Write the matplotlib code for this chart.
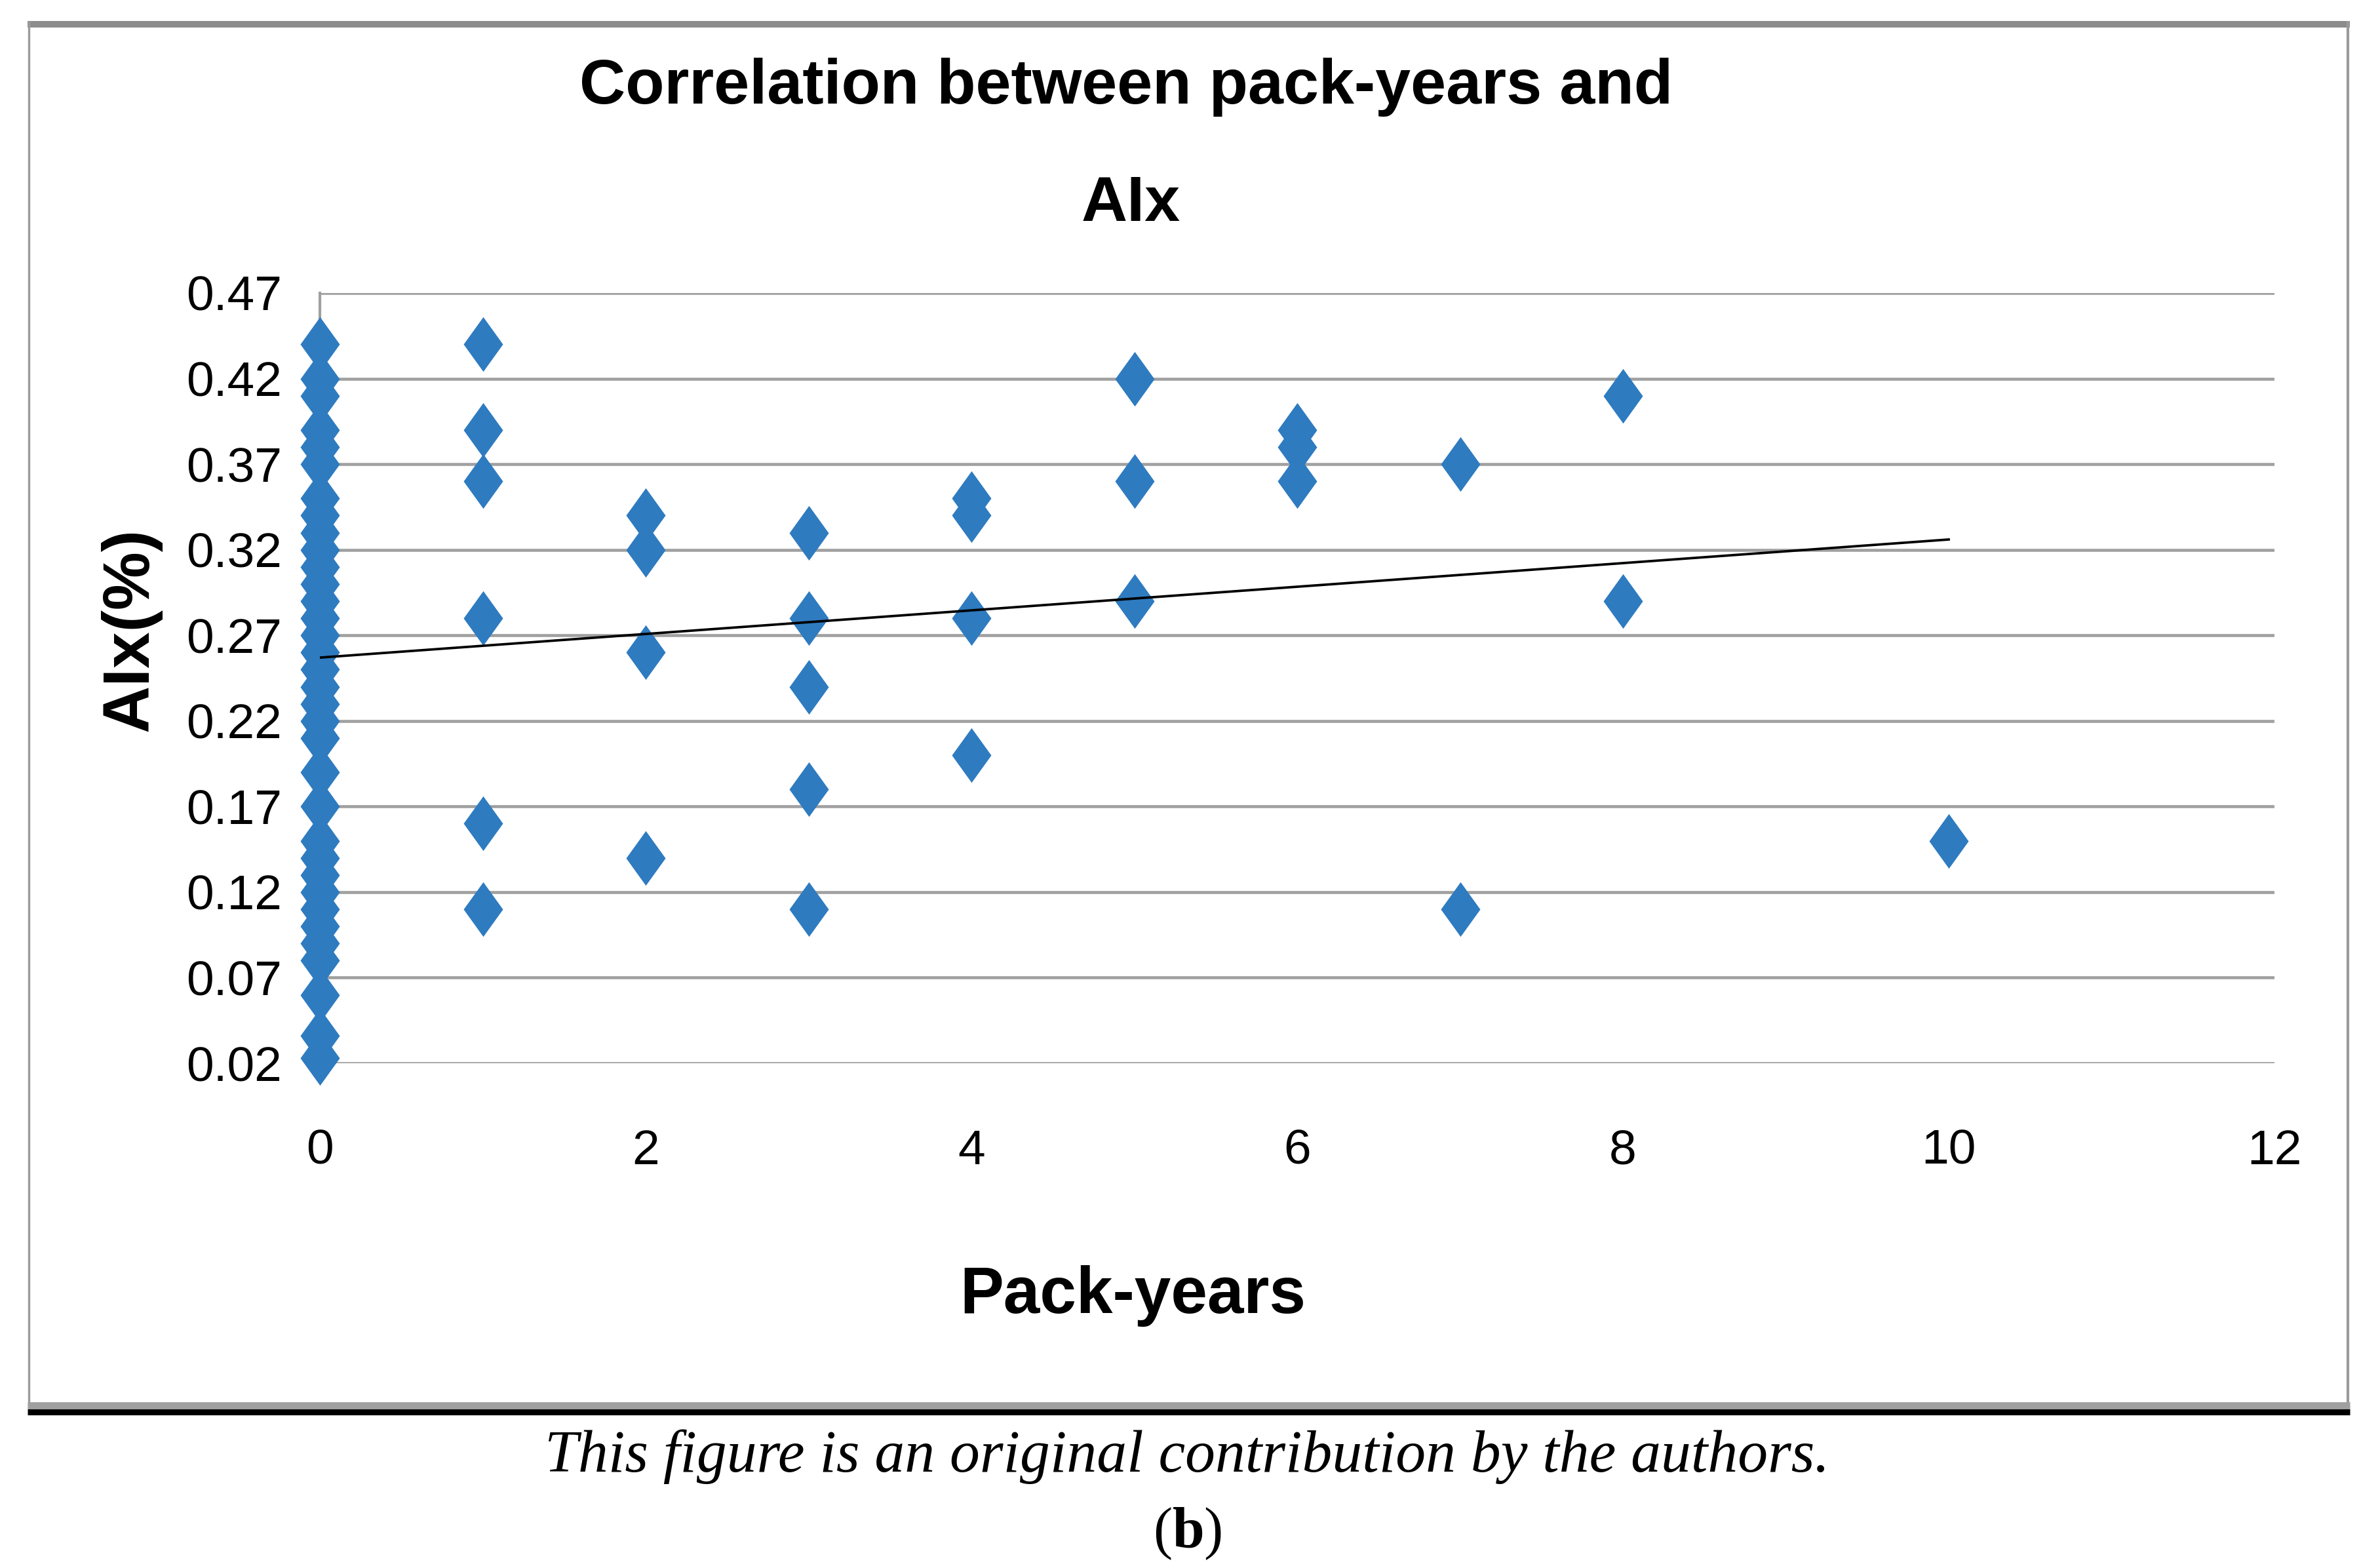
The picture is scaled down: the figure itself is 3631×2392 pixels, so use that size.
import numpy as np
import matplotlib
matplotlib.use("Agg")
import matplotlib.pyplot as plt
from matplotlib.lines import Line2D

plt.rcParams['mathtext.fontset'] = 'custom'
plt.rcParams['mathtext.rm'] = 'Liberation Serif'
plt.rcParams['mathtext.bf'] = 'Liberation Serif:bold'

# pack-years vs AIx
pack_years = [0] * 34 + [1] * 6 + [2] * 4 + [3] * 5 + [4] * 4 + [5] * 3 + [6] * 3 + [7] * 2 + [8] * 2 + [10]
aix = [0.44, 0.42, 0.41, 0.39, 0.38, 0.37, 0.35, 0.34, 0.33, 0.32, 0.31, 0.30,
       0.29, 0.28, 0.27, 0.26, 0.25, 0.24, 0.23, 0.22, 0.21, 0.19, 0.17, 0.15,
       0.14, 0.13, 0.12, 0.11, 0.10, 0.09, 0.08, 0.06, 0.036, 0.023,
       0.44, 0.39, 0.36, 0.28, 0.16, 0.11,
       0.34, 0.32, 0.26, 0.14,
       0.33, 0.28, 0.24, 0.18, 0.11,
       0.35, 0.34, 0.28, 0.20,
       0.42, 0.36, 0.29,
       0.39, 0.38, 0.36,
       0.37, 0.11,
       0.41, 0.29,
       0.15]

# linear trend line end points
trend_x = [0, 10]
trend_y = [0.257, 0.326]

yticks = [0.02, 0.07, 0.12, 0.17, 0.22, 0.27, 0.32, 0.37, 0.42, 0.47]
xticks = [0, 2, 4, 6, 8, 10, 12]

W, H = 3631, 2392
fig = plt.figure(figsize=(W / 300, H / 300), dpi=300)
ax = fig.add_axes([488 / W, 1 - 1622 / H, (3470 - 488) / W, (1622 - 447) / H])

diamond = [(0, 1), (0.72, 0), (0, -1), (-0.72, 0), (0, 1)]
ax.plot(pack_years, aix, linestyle='none', marker=diamond, markersize=20,
        color='#2E7BC0', markeredgewidth=0, zorder=3, clip_on=False)
ax.plot(trend_x, trend_y, color='black', linewidth=0.9, zorder=4)

ax.set_xlim(0, 12)
ax.set_ylim(0.02, 0.47)
ax.set_xticks(xticks)
ax.set_yticks(yticks)
ax.set_yticklabels(['%.2f' % v for v in yticks])
ax.grid(axis='y', color='#A0A0A0', linewidth=1.1)
ax.set_axisbelow(True)
for s in ['top', 'right', 'bottom']:
    ax.spines[s].set_visible(False)
ax.spines['left'].set_color('#A0A0A0')
ax.spines['left'].set_linewidth(1.0)
ax.tick_params(axis='both', length=0, labelsize=18)
ax.tick_params(axis='y', pad=14)
ax.tick_params(axis='x', pad=24)
for lab in ax.get_xticklabels() + ax.get_yticklabels():
    lab.set_family(['Liberation Sans', 'DejaVu Sans'])

bold_sans = ['Liberation Sans', 'DejaVu Sans']
fig.text(1718 / W, 1 - 158 / H, 'Correlation between pack-years and', ha='center',
         va='baseline', fontsize=23.3, fontweight='bold', family=bold_sans)
fig.text(1725 / W, 1 - 337 / H, 'AIx', ha='center', va='baseline',
         fontsize=23.3, fontweight='bold', family=bold_sans)
fig.text(1728 / W, 1 - 2003 / H, 'Pack-years', ha='center', va='baseline',
         fontsize=24, fontweight='bold', family=bold_sans)
fig.text(200 / W, 1 - 960 / H, 'AIx(%)', ha='center', va='center', rotation=90,
         fontsize=24, fontweight='bold', family=bold_sans)

fig.text(1811 / W, 1 - 2245 / H, 'This figure is an original contribution by the authors.',
         ha='center', va='baseline', fontsize=22, style='italic',
         family=['Liberation Serif', 'DejaVu Serif'])
fig.text(1812 / W, 1 - 2340 / H, r'$(\mathbf{b})$', ha='center', va='center', fontsize=21)

# frame around the chart
def fline(x0, y0, x1, y1, c, lw):
    fig.add_artist(Line2D([x0 / W, x1 / W], [1 - y0 / H, 1 - y1 / H], color=c,
                          linewidth=lw, solid_capstyle='butt'))

fline(42, 37, 3585, 37, '#8C8C8C', 2.4)
fline(44, 32, 44, 2150, '#9A9A9A', 0.8)
fline(3582, 32, 3582, 2150, '#9A9A9A', 1.0)
fline(42, 2144, 3585, 2144, '#A0A0A0', 2.6)
fline(42, 2154, 3585, 2154, 'black', 2.2)

fig.savefig('out.png', dpi=300, facecolor='white')
